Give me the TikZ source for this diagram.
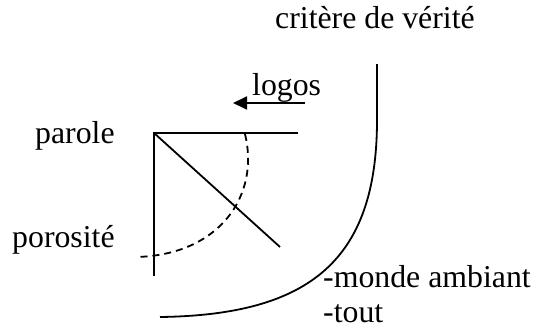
\documentclass[tikz,border=0pt]{standalone}
\usepackage{fontspec}
\setmainfont{Liberation Serif}
\usetikzlibrary{arrows.meta,positioning}

\begin{document}
\begin{tikzpicture}[
  x=1pt,y=-1pt,
  label/.style={anchor=base west,inner sep=0pt,font=\fontsize{31.8}{38}\selectfont},
  stroke/.style={line width=1.8pt,color=black},
  porous/.style={stroke,dashed,dash pattern=on 7pt off 5pt},
  arrow/.style={stroke,-{Triangle[length=14pt,width=13pt]}}
]
  \useasboundingbox (0,0) rectangle (534,329);

  \node[label] (critere) at (275,29) {critère de vérité};
  \node[label] (logos) at (252,95) {logos};
  \node[label] (parole) at (35,143) {parole};
  \node[label] (porosite) at (12,247) {porosité};
  \node[label] (monde) at (323,287) {-monde ambiant};
  \node[label] (tout) at (323,322) {-tout};

  \coordinate (corner) at (154,133);
  \coordinate (top) at (298,133);
  \coordinate (foot) at (154,276);
  \coordinate (diag) at (280,247);
  \coordinate (arrowstart) at (305,103);
  \coordinate (arrowend) at (233,103);
  \coordinate (porestart) at (245,134);
  \coordinate (poreend) at (136,257);
  \coordinate (truthtop) at (377,64);
  \coordinate (truthbend) at (377,120);
  \coordinate (truthend) at (160,317);

  % parole : les trois traits
  \draw[stroke] (top) -- (corner) -- (foot);
  \draw[stroke] (corner) -- (diag);

  % logos
  \draw[arrow] (arrowstart) -- (arrowend);

  % porosite
  \draw[porous] (porestart) .. controls (260,195) and (220,255) .. (poreend);

  % critere de verite
  \draw[stroke] (truthtop) -- (truthbend) .. controls (377,260) and (310,315) .. (truthend);
\end{tikzpicture}
\end{document}
